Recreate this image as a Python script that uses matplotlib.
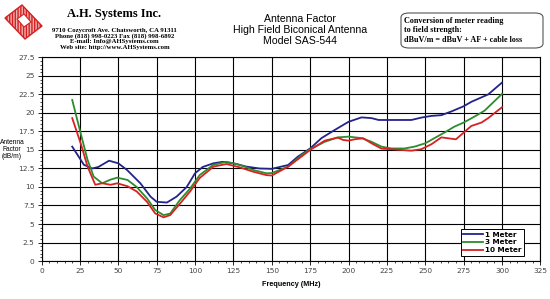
import numpy as np
import matplotlib
matplotlib.use("Agg")
import matplotlib.pyplot as plt
from matplotlib.patches import Polygon, FancyBboxPatch
from matplotlib.ticker import MultipleLocator

# antenna factor readings (dB/m) vs frequency (MHz)
f_1m = [20, 27.6, 33, 37, 44, 50, 55.7, 64.4, 71, 75, 81.7, 88, 94.6, 100, 105, 112, 118, 125,
        133.5, 142, 150, 160.7, 167, 175, 182.4, 191, 200, 208.5, 215, 219.6, 225, 234.5, 241,
        247.4, 254, 260.5, 267, 275, 280, 286.6, 291, 300]
af_1m = [15.45, 13.0, 12.5, 12.7, 13.55, 13.2, 12.3, 10.5, 8.7, 8.0, 7.9, 8.7, 10.0, 11.85, 12.7,
         13.2, 13.4, 13.2, 12.75, 12.5, 12.45, 12.97, 14.1, 15.2, 16.6, 17.7, 18.8, 19.4, 19.3,
         19.05, 19.05, 19.05, 19.05, 19.37, 19.6, 19.7, 20.2, 20.9, 21.5, 22.1, 22.5, 24.1]

f_3m = [20, 25.5, 30, 34, 39.5, 45, 49.3, 56, 62, 68.7, 74, 79.5, 83.8, 90, 96.8, 103, 112, 120.5,
        129, 137.8, 146.5, 150, 160.7, 169.3, 175, 184.5, 193, 200, 208.5, 215, 221.5, 228, 236.5,
        243, 250, 256, 262.5, 269, 275, 282, 288.6, 300]
af_3m = [21.75, 17.25, 13.65, 11.4, 10.5, 11.0, 11.26, 10.95, 10.0, 8.47, 6.9, 6.2, 6.4, 8.2, 9.8,
         11.6, 13.0, 13.4, 13.0, 12.3, 11.85, 11.88, 12.75, 14.3, 15.1, 16.1, 16.7, 16.8, 16.6,
         16.1, 15.45, 15.2, 15.2, 15.45, 15.9, 16.6, 17.35, 18.15, 18.7, 19.5, 20.3, 22.57]

f_10m = [20, 25.5, 30, 35, 39.5, 45, 49.3, 56, 62, 68.7, 74, 79.5, 83.8, 90, 96.8, 103, 112, 120.5,
         129, 137.8, 146.5, 150, 160.7, 169.3, 175, 184.5, 193, 196.5, 200, 204, 209.6, 215, 221.5,
         228, 234.5, 241, 247.4, 254, 260.5, 264.8, 270, 275, 280, 286.6, 291, 300]
af_10m = [19.3, 15.9, 12.75, 10.3, 10.5, 10.3, 10.5, 10.1, 9.4, 8.0, 6.44, 5.9, 6.2, 7.7, 9.4, 11.2,
          12.75, 13.1, 12.66, 12.07, 11.6, 11.55, 12.75, 14.1, 15.0, 16.26, 16.67, 16.35, 16.26,
          16.44, 16.58, 15.9, 15.18, 15.1, 15.0, 14.9, 15.1, 15.77, 16.7, 16.58, 16.44, 17.34,
          18.24, 18.7, 19.3, 20.77]

fig = plt.figure(figsize=(5.5, 2.99), dpi=100)
ax = fig.add_axes([0.0755, 0.127, 0.907, 0.681])

ax.plot(f_1m, af_1m, color="#23238c", lw=1.3, label="1 Meter")
ax.plot(f_3m, af_3m, color="#2e8b2e", lw=1.3, label="3 Meter")
ax.plot(f_10m, af_10m, color="#d62222", lw=1.3, label="10 Meter")

ax.set_xlim(0, 325)
ax.set_ylim(0, 27.5)
ax.xaxis.set_major_locator(MultipleLocator(25))
ax.xaxis.set_minor_locator(MultipleLocator(5))
ax.yaxis.set_minor_locator(MultipleLocator(0.5))
ax.set_yticks(np.arange(0, 27.6, 2.5))
ax.set_yticklabels(["0", "2.5", "5", "7.5", "10", "12.5", "15", "17.5", "20", "22.5", "25", "27.5"])
ax.grid(True, which="major", color="black", lw=0.8)
ax.set_axisbelow(True)
ax.tick_params(which="major", labelsize=5.3, labelcolor="#444444", length=3, width=0.6, pad=2)
ax.tick_params(which="minor", length=1.5, width=0.5)
for s in ax.spines.values():
    s.set_linewidth(0.8)

ax.set_xlabel("Frequency (MHz)", fontsize=5.2, fontweight="bold", family="Liberation Sans", labelpad=5)
fig.text(0.022, 0.5, "Antenna\nFactor\n(dB/m)", fontsize=4.8, family="Liberation Sans",
         ha="center", va="center", linespacing=1.0)

leg = ax.legend(loc="lower right", bbox_to_anchor=(0.97, 0.02), fontsize=5.2, frameon=True,
                fancybox=False, edgecolor="black", framealpha=1, handlelength=2.8,
                borderpad=0.3, labelspacing=0.25, handletextpad=0.3, borderaxespad=0.2)
leg.get_frame().set_linewidth(0.7)
for t in leg.get_texts():
    t.set_fontweight("bold")

# title
fig.text(0.545, 0.9, "Antenna Factor\nHigh Field Biconical Antenna\nModel SAS-544",
         fontsize=7.6, family="Liberation Sans", ha="center", va="center", linespacing=1.15)

# company block
fig.text(0.208, 0.952, "A.H. Systems Inc.", fontsize=9, family="Liberation Serif",
         fontweight="bold", ha="center", va="center")
fig.text(0.208, 0.871, "9710 Cozycroft Ave. Chatsworth, CA 91311\nPhone (818) 998-0223 Fax (818) 998-6892\n"
         "E-mail: Info@AHSystems.com\nWeb site: http://www.AHSystems.com",
         fontsize=4.9, family="Liberation Serif", fontweight="bold", ha="center", va="center",
         linespacing=1.1)

# logo
W, H = 550.0, 299.0
logo_pts = [(5, 18), (22, 5), (42, 26), (25, 39)]
logo = Polygon([(x / W, 1 - y / H) for x, y in logo_pts], closed=True, transform=fig.transFigure,
               facecolor="#f0b0b0", edgecolor="#d42020", hatch="||||||", lw=1.0)
fig.patches.append(logo)
inner_pts = [(17, 19), (24, 14), (31, 22), (24, 27)]
inner = Polygon([(x / W, 1 - y / H) for x, y in inner_pts], closed=True, transform=fig.transFigure,
                facecolor="white", edgecolor="#d42020", lw=0.8)
fig.patches.append(inner)

# conversion box
box = FancyBboxPatch((401 / W, 1 - 48 / H), 142 / W, 35 / H, transform=fig.transFigure,
                     boxstyle="round,pad=0,rounding_size=0.015", facecolor="white",
                     edgecolor="#555555", lw=0.8)
fig.patches.append(box)
fig.text(404 / W, 1 - 30.5 / H, "Conversion of meter reading\nto field strength:\n"
         "dBuV/m = dBuV + AF + cable loss", fontsize=5.9, family="Liberation Serif",
         fontweight="bold", ha="left", va="center", linespacing=1.25)

fig.savefig("out.png", dpi=100, facecolor="white")
